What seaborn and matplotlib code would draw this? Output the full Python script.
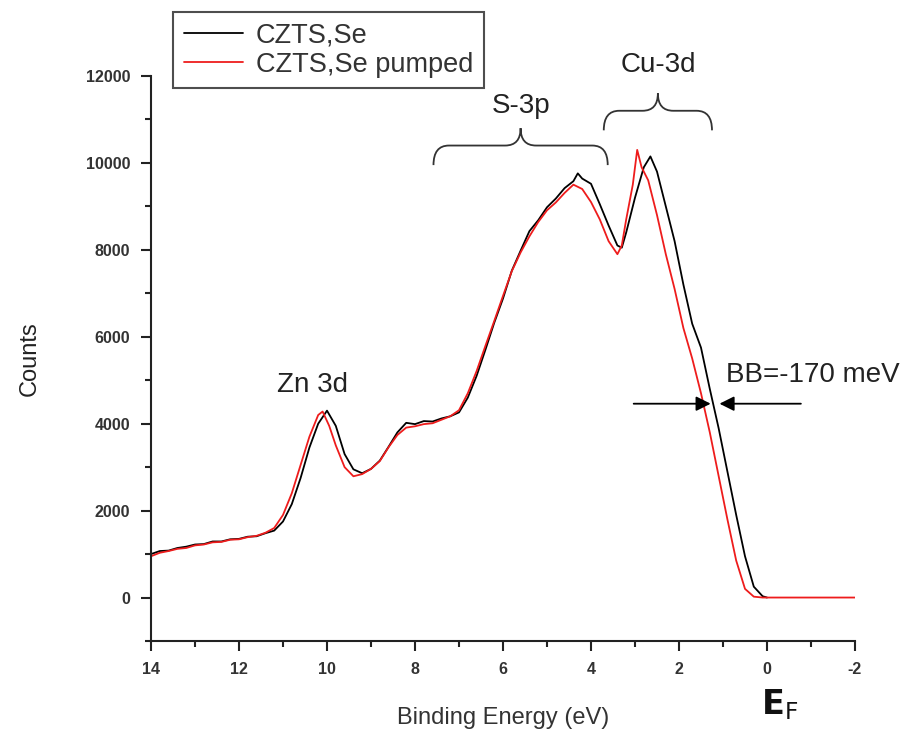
import numpy as np
import pandas as pd
import matplotlib
matplotlib.use("Agg")
import matplotlib.pyplot as plt
from matplotlib.path import Path
from matplotlib.patches import PathPatch
from matplotlib.ticker import MultipleLocator
import seaborn as sns

sns.set_theme(style="white")
plt.rcParams['font.family'] = ['Liberation Sans', 'DejaVu Sans']

# ---------------- data ----------------
energy_pristine = [14.0, 13.8, 13.6, 13.4, 13.2, 13.0, 12.8, 12.6, 12.4, 12.2, 12.0,
                   11.8, 11.6, 11.4, 11.2, 11.0, 10.8, 10.6, 10.4, 10.2, 10.0,
                   9.8, 9.6, 9.4, 9.2, 9.0, 8.8, 8.6, 8.4, 8.2, 8.0,
                   7.8, 7.6, 7.4, 7.2, 7.0, 6.8, 6.6, 6.4, 6.2, 6.0,
                   5.8, 5.6, 5.4, 5.2, 5.0, 4.8, 4.6, 4.4, 4.3, 4.2,
                   4.0, 3.8, 3.6, 3.4, 3.3, 3.2, 3.0, 2.8, 2.65, 2.5,
                   2.3, 2.1, 1.9, 1.7, 1.5, 1.3, 1.1, 0.9, 0.7, 0.5,
                   0.3, 0.1, 0.0]
counts_pristine = [1000, 1070, 1080, 1140, 1170, 1220, 1230, 1290, 1290, 1340, 1350,
                   1400, 1410, 1480, 1540, 1750, 2150, 2750, 3450, 4000, 4300,
                   3950, 3300, 2950, 2860, 2960, 3150, 3470, 3800, 4020, 3990,
                   4060, 4050, 4120, 4170, 4260, 4600, 5100, 5700, 6320, 6880,
                   7520, 7980, 8430, 8680, 8980, 9180, 9420, 9580, 9760, 9640,
                   9520, 9050, 8560, 8100, 8050, 8400, 9200, 9900, 10150, 9800,
                   9000, 8200, 7200, 6300, 5750, 4800, 3900, 2900, 1900, 950,
                   250, 30, 0]

energy_pumped = [14.0, 13.8, 13.6, 13.4, 13.2, 13.0, 12.8, 12.6, 12.4, 12.2, 12.0,
                 11.8, 11.6, 11.4, 11.2, 11.0, 10.8, 10.6, 10.4, 10.2, 10.1,
                 9.95, 9.8, 9.6, 9.4, 9.2, 9.0, 8.8, 8.6, 8.4, 8.2,
                 8.0, 7.8, 7.6, 7.4, 7.2, 7.0, 6.8, 6.6, 6.4, 6.2,
                 6.0, 5.8, 5.6, 5.4, 5.2, 5.0, 4.8, 4.6, 4.4, 4.2,
                 4.0, 3.8, 3.6, 3.4, 3.3, 3.2, 3.05, 2.95, 2.85, 2.7,
                 2.5, 2.3, 2.1, 1.9, 1.7, 1.5, 1.3, 1.1, 0.9, 0.7,
                 0.5, 0.3, 0.1, -2.0]
counts_pumped = [950, 1030, 1070, 1120, 1140, 1200, 1220, 1270, 1280, 1330, 1340,
                 1390, 1420, 1490, 1600, 1900, 2400, 3050, 3700, 4200, 4280,
                 3950, 3500, 3000, 2790, 2840, 2960, 3140, 3460, 3740, 3910,
                 3940, 3990, 4010, 4090, 4170, 4310, 4700, 5210, 5790, 6360,
                 6940, 7510, 7940, 8310, 8640, 8910, 9090, 9310, 9500, 9400,
                 9100, 8700, 8200, 7900, 8100, 8700, 9500, 10300, 9900, 9600,
                 8800, 7900, 7100, 6200, 5500, 4700, 3800, 2800, 1800, 850,
                 200, 20, 0, 0]

labels = ["CZTS,Se", "CZTS,Se pumped"]
colors = ["#000000", "#ee1c1c"]

df = pd.concat([
    pd.DataFrame({"energy": energy_pristine, "counts": counts_pristine, "sample": labels[0]}),
    pd.DataFrame({"energy": energy_pumped, "counts": counts_pumped, "sample": labels[1]}),
], ignore_index=True)

# ---------------- figure ----------------
fig = plt.figure(figsize=(9.24, 7.31), dpi=100)
ax = fig.add_axes([151/924, 1-641/731, (855-151)/924, (641-76)/731])

sns.lineplot(data=df, x="energy", y="counts", hue="sample", hue_order=labels,
             palette=dict(zip(labels, colors)), sort=False, estimator=None,
             linewidth=1.3, ax=ax)

ax.set_xlim(14, -2)
ax.set_ylim(-1000, 12000)
ax.xaxis.set_minor_locator(MultipleLocator(1))
ax.yaxis.set_minor_locator(MultipleLocator(1000))
ax.set_yticks(range(0, 12001, 2000))
ax.set_xticks(range(14, -3, -2))
ax.set_xticklabels(["14", "12", "10", "8", "6", "4", "2", "0", "-2"])

for s in ["top", "right"]:
    ax.spines[s].set_visible(False)
for s in ["left", "bottom"]:
    ax.spines[s].set_color("#222222")
    ax.spines[s].set_linewidth(1.5)

ax.tick_params(which="major", direction="out", length=7, width=1.5, color="#222222",
               labelsize=11.5, labelcolor="#333333", left=True, bottom=True, pad=8)
ax.tick_params(which="minor", direction="out", length=4, width=1.5, color="#222222",
               left=True, bottom=True)
for t in ax.get_xticklabels() + ax.get_yticklabels():
    t.set_fontweight("bold")

ax.set_xlabel("Binding Energy (eV)", fontsize=17, color="#333333", labelpad=22)
ax.set_ylabel("Counts", fontsize=17, color="#222222", labelpad=32)

# legend
leg = ax.legend(loc="upper left", bbox_to_anchor=(173/924, 1-12/731),
                bbox_transform=fig.transFigure, fontsize=19.5, frameon=True,
                fancybox=False, edgecolor="#222222", handlelength=2.2,
                handletextpad=0.45, borderpad=0.4, labelspacing=0.1,
                borderaxespad=0)
leg.get_frame().set_linewidth(1.5)
for t in leg.get_texts():
    t.set_color("#333333")

# braces
def brace(x_left, x_right, y_end, y_mid, y_tip, r):
    xc = (x_left + x_right) / 2
    verts = [(x_left, y_end), (x_left, y_mid), (x_left - r, y_mid),
             (xc + r, y_mid), (xc, y_mid), (xc, y_tip),
             (xc, y_mid), (xc - r, y_mid),
             (x_right + r, y_mid), (x_right, y_mid), (x_right, y_end)]
    codes = [Path.MOVETO, Path.CURVE3, Path.CURVE3,
             Path.LINETO, Path.CURVE3, Path.CURVE3,
             Path.CURVE3, Path.CURVE3,
             Path.LINETO, Path.CURVE3, Path.CURVE3]
    ax.add_patch(PathPatch(Path(verts, codes), facecolor="none", edgecolor="#333333",
                           linewidth=1.3, clip_on=False))
    return xc

xc = brace(7.58, 3.62, 9950, 10400, 10800, 0.35)
ax.text(xc, 11300, "S-3p", ha="center", va="center", fontsize=20, color="#222222")
xc = brace(3.71, 1.25, 10750, 11200, 11600, 0.35)
ax.text(xc, 12250, "Cu-3d", ha="center", va="center", fontsize=20, color="#222222",
        clip_on=False)

ax.text(10.34, 4900, "Zn 3d", ha="center", va="center", fontsize=20, color="#222222")
ax.text(0.93, 5130, "BB=-170 meV", ha="left", va="center", fontsize=20,
        color="#222222", clip_on=False)

ax.annotate("", xy=(1.28, 4460), xytext=(3.03, 4460),
            arrowprops=dict(arrowstyle="-|>", color="black", lw=1.3,
                            mutation_scale=22, shrinkA=0, shrinkB=0))
ax.annotate("", xy=(1.08, 4460), xytext=(-0.77, 4460),
            arrowprops=dict(arrowstyle="-|>", color="black", lw=1.3,
                            mutation_scale=22, shrinkA=0, shrinkB=0))

fig.text(780/924, 1-705/731, r"$\mathbf{E}_\mathrm{F}$", ha="center", va="center",
         fontsize=24, color="#111111", family="DejaVu Sans")

fig.savefig("out.png", dpi=100)
